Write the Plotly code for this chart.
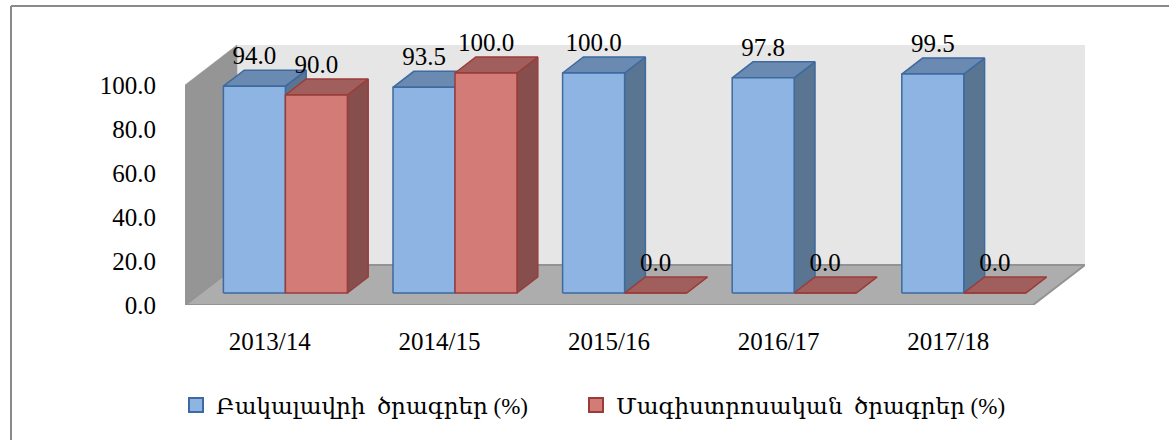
import plotly.graph_objects as go

# ---------------- data ----------------
categories = ["2013/14", "2014/15", "2015/16", "2016/17", "2017/18"]
bachelor = [94.0, 93.5, 100.0, 97.8, 99.5]
master = [90.0, 100.0, 0.0, 0.0, 0.0]
series_names = ["Բակալավրի  ծրագրեր (%)", "Մագիստրոսական  ծրագրեր (%)"]
y_ticks = [0, 20, 40, 60, 80, 100]

# ---------------- layout / projection ----------------
W, H = 1169, 440
L, R, T, B = 185, 84, 45, 135
PW = W - L - R          # plot width px
PH = H - T - B          # plot height px
CAT_PX = 169.6          # px per category on the front plane
VAL_PX = 2.2            # px per value unit
DX = 52 / CAT_PX        # full depth shift (category units)
DY = 40 / VAL_PX        # full depth shift (value units)
D0, D1 = 0.3, 0.7       # bar depth span
BW = 62 / CAT_PX        # bar width (category units)
YMAX = 100

FONT = "Liberation Serif, DejaVu Serif, serif"

def P(x, v, d):
    return x + d * DX, v + d * DY

def poly_trace(polys, fill, line, width=1.5):
    xs, ys = [], []
    for poly in polys:
        for (x, y) in poly + [poly[0]]:
            xs.append(x); ys.append(y)
        xs.append(None); ys.append(None)
    return go.Scatter(x=xs, y=ys, mode="lines", fill="toself", fillcolor=fill,
                      line=dict(color=line, width=width), hoverinfo="skip",
                      showlegend=False)

def bar_faces(values, offset):
    fronts, tops, sides = [], [], []
    for i, v in enumerate(values):
        xa = i + offset
        xb = xa + BW
        fronts.append([P(xa, 0, D0), P(xb, 0, D0), P(xb, v, D0), P(xa, v, D0)])
        tops.append([P(xa, v, D0), P(xb, v, D0), P(xb, v, D1), P(xa, v, D1)])
        sides.append([P(xb, 0, D0), P(xb, 0, D1), P(xb, v, D1), P(xb, v, D0)])
    return fronts, tops, sides

fig = go.Figure()

# walls and floor
x_lo, x_hi = -0.5, len(categories) - 0.5
back_wall = [P(x_lo, 0, 1), P(x_hi, 0, 1), P(x_hi, YMAX, 1), P(x_lo, YMAX, 1)]
floor = [P(x_lo, 0, 0), P(x_hi, 0, 0), P(x_hi, 0, 1), P(x_lo, 0, 1)]
left_wall = [P(x_lo, 0, 0), P(x_lo, 0, 1), P(x_lo, YMAX, 1), P(x_lo, YMAX, 0)]
fig.add_trace(poly_trace([back_wall], "#E6E6E6", "#E6E6E6", 0.5))
fig.add_trace(poly_trace([floor], "#ADADAD", "#939393", 2))
fig.add_trace(poly_trace([left_wall], "#959595", "#959595", 0.5))

styles = [
    dict(front="#8DB4E3", top="#6A8AB2", side="#5A7592", line="#3D6A9F"),
    dict(front="#D27B77", top="#A05F5C", side="#864F4D", line="#9A3D3A"),
]
offsets = [-BW, 0.0]
for vals, off, st in zip([bachelor, master], offsets, styles):
    fr, tp, sd = bar_faces(vals, off)
    fig.add_trace(poly_trace(sd, st["side"], st["line"]))
    fig.add_trace(poly_trace(tp, st["top"], st["line"]))
    fig.add_trace(poly_trace(fr, st["front"], st["line"]))

# value labels
for vals, off in zip([bachelor, master], offsets):
    lx = [P(i + off + BW / 2, v, D0)[0] for i, v in enumerate(vals)]
    ly = [P(i + off + BW / 2, v, D1)[1] for i, v in enumerate(vals)]
    fig.add_trace(go.Scatter(x=lx, y=ly, mode="text", text=[f"{v:.1f}" for v in vals],
                             textposition="top center", cliponaxis=False,
                             textfont=dict(family=FONT, size=25, color="black"),
                             hoverinfo="skip", showlegend=False))

# legend entries (one legend box per series)
for name, st, lg in zip(series_names, styles, ["legend", "legend2"]):
    fig.add_trace(go.Scatter(x=[None], y=[None], name=name, legend=lg, mode="markers",
                             marker=dict(symbol="square", size=14, color=st["front"],
                                         line=dict(color=st["line"], width=2))))

def px_x(px):
    return (px - L) / PW

def px_y(py):
    return (H - B - py) / PH

legend_common = dict(orientation="h", xanchor="left", y=px_y(405), yanchor="middle",
                     font=dict(family=FONT, size=23, color="black"),
                     itemsizing="trace", bgcolor="rgba(0,0,0,0)")

fig.update_layout(
    width=W, height=H,
    margin=dict(l=L, r=R, t=T, b=B, pad=0),
    paper_bgcolor="white", plot_bgcolor="white",
    font=dict(family=FONT, size=25, color="black"),
    showlegend=True,
    legend=dict(x=px_x(176), **legend_common),
    legend2=dict(x=px_x(576), **legend_common),
    xaxis=dict(range=[x_lo, x_hi + DX], tickvals=list(range(len(categories))),
               ticktext=categories, showgrid=False, zeroline=False, showline=False,
               ticks="outside", ticklen=14, tickcolor="rgba(0,0,0,0)",
               tickfont=dict(family=FONT, size=25, color="black"), fixedrange=True),
    yaxis=dict(range=[0, YMAX + DY], tickvals=y_ticks,
               ticktext=[f"{t:.1f}" for t in y_ticks], showgrid=False, zeroline=False,
               showline=False, ticks="outside", ticklen=23, tickcolor="rgba(0,0,0,0)",
               tickfont=dict(family=FONT, size=25, color="black"), fixedrange=True),
    shapes=[
        dict(type="line", xref="paper", yref="paper", x0=px_x(11), x1=px_x(11),
             y0=px_y(6), y1=px_y(450), line=dict(color="#8A8A8A", width=2)),
        dict(type="line", xref="paper", yref="paper", x0=px_x(11), x1=px_x(1180),
             y0=px_y(6), y1=px_y(6), line=dict(color="#8A8A8A", width=2)),
    ],
)

fig.write_html("out.html", config={"displayModeBar": False},
               post_script="document.body.style.margin='0';")
